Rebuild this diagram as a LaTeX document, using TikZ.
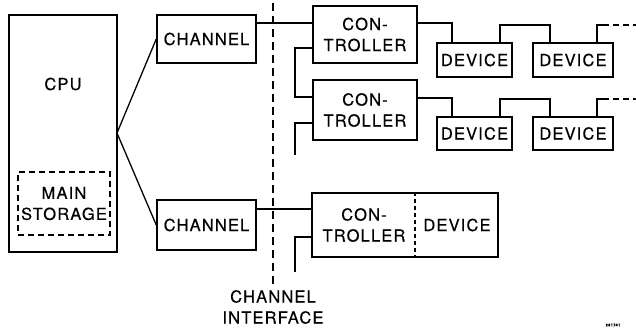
\documentclass[tikz,border=0pt]{standalone}
\usepackage{fontspec}
\setmainfont{TeX Gyre Heros}[LetterSpace=7,FakeBold=0.4]
\begin{document}
\begin{tikzpicture}[x=1bp,y=-1bp,
  box/.style={draw,line width=1.5bp,rectangle,inner sep=0pt},
  lbl/.style={font=\fontsize{16.5bp}{21bp}\selectfont,align=center,inner sep=0pt},
  wire/.style={line width=1.3bp},
  dwire/.style={line width=1.3bp,dash pattern=on 6bp off 4bp}]
\useasboundingbox (0,0) rectangle (636,331);
% CPU
\node[box,minimum width=108bp,minimum height=237bp] (cpu) at (63,133.5) {};
\node[lbl] (cpul) at (63,84) {CPU};
\node[box,dwire,minimum width=92bp,minimum height=63bp,lbl] (ms) at (64,203.5) {MAIN\\STORAGE};
\coordinate (fan) at (117,133);
% channels
\node[box,minimum width=99bp,minimum height=48bp,lbl] (ch1) at (206.5,39) {CHANNEL};
\node[box,minimum width=99bp,minimum height=50bp,lbl] (ch2) at (206.5,225) {CHANNEL};
\draw[wire] (fan) -- (ch1.west);
\draw[wire] (fan) -- (ch2.west);
% channel interface
\coordinate (cit) at (273,3);
\coordinate (cib) at (273,287);
\draw[line width=1.5bp,dash pattern=on 8bp off 5bp] (cit) -- (cib);
\node[lbl] (cil) at (273,307) {CHANNEL\\INTERFACE};
% controllers
\node[box,minimum width=104bp,minimum height=57bp,lbl] (c1) at (365,34.5) {CON-\\TROLLER};
\node[box,minimum width=104bp,minimum height=60bp,lbl] (c2) at (365,110) {CON-\\TROLLER};
\node[box,minimum width=186bp,minimum height=64bp] (c3) at (405,225) {};
\node[lbl] (c3l) at (364,225) {CON-\\TROLLER};
\node[lbl] (c3d) at (457,225) {DEVICE};
\draw[line width=1.1bp,dash pattern=on 4bp off 3bp] (c3.north -| 415,0) -- (c3.south -| 415,0);
% channel to controllers
\draw[wire] (ch1.east |- 0,23) -- (c1.west |- 0,23);
\draw[wire] (c1.west |- 0,48) -- (295,48) -- (295,97) -- (c2.west |- 0,97);
\coordinate (e2) at (295,155);
\draw[wire] (c2.west |- 0,123) -- (295,123) -- (e2);
\draw[wire] (ch2.east |- 0,209) -- (c3.west |- 0,209);
\coordinate (e3) at (295,272);
\draw[wire] (c3.west |- 0,237) -- (295,237) -- (e3);
% devices
\node[box,minimum width=75bp,minimum height=34bp,lbl] (d1) at (474.5,60) {DEVICE};
\node[box,minimum width=80bp,minimum height=34bp,lbl] (d2) at (573,60) {DEVICE};
\node[box,minimum width=75bp,minimum height=33bp,lbl] (d3) at (474.5,133.5) {DEVICE};
\node[box,minimum width=80bp,minimum height=33bp,lbl] (d4) at (573,133.5) {DEVICE};
\coordinate (r1) at (636,25);
\coordinate (r2) at (636,99);
\draw[wire] (c1.east |- 0,23) -- (452,23) -- (d1.north -| 452,0);
\draw[wire] (d1.north -| 500,0) -- (500,25) -- (550,25) -- (d2.north -| 550,0);
\draw[wire] (d2.north -| 597,0) -- (597,25) -- (603,25);
\draw[dwire] (603,25) -- (r1);
\draw[wire] (c2.east |- 0,98) -- (452,98) -- (d3.north -| 452,0);
\draw[wire] (d3.north -| 500,0) -- (500,99) -- (550,99) -- (d4.north -| 550,0);
\draw[wire] (d4.north -| 597,0) -- (597,99) -- (603,99);
\draw[dwire] (603,99) -- (r2);
% figure number
\node[font=\fontsize{4bp}{4bp}\bfseries\selectfont,inner sep=0pt] (fig) at (613,325) {261741};
\end{tikzpicture}
\end{document}
